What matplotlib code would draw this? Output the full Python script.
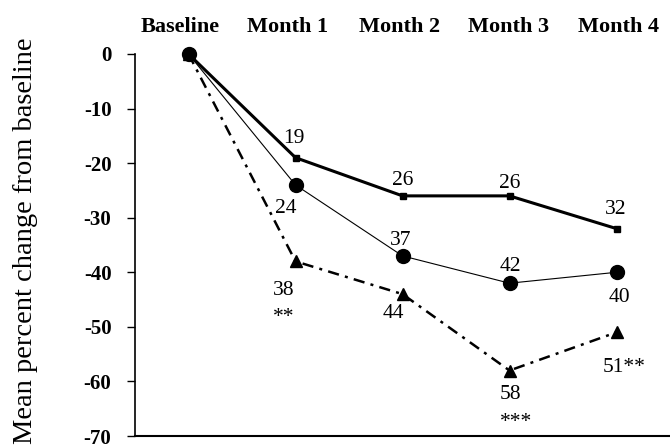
import matplotlib
matplotlib.use('Agg')
import matplotlib.pyplot as plt

plt.rcParams['font.family'] = ['Liberation Serif', 'DejaVu Serif']

timepoints = ['Baseline', 'Month 1', 'Month 2', 'Month 3', 'Month 4']
square_vals = [0, -19, -26, -26, -32]
circle_vals = [0, -24, -37, -42, -40]
triangle_vals = [0, -38, -44, -58, -51]

square_labels = [None, '19', '26', '26', '32']
circle_labels = [None, '24', '37', '42', '40']
triangle_labels = [None, '38', '44', '58', '51**']
triangle_stars = [None, '**', None, '***', None]

# label offsets in pixels (dx, dy)
square_offs = [None, (-2, 19.5), (0, 15.5), (0, 12.5), (-0.5, 19.5)]
circle_offs = [None, (-10, -23.5), (-2, 15.5), (1, 16.5), (3, -25.5)]
triangle_offs = [None, (-12, -29.5), (-9.5, -19.5), (1, -23.5), (8, -35)]
star_offs = [None, (-12, -56), None, (7, -52), None]
header_pos = [-0.08, 0.93, 1.97, 2.99, 4.02]

x = list(range(len(timepoints)))

fig = plt.figure(figsize=(6.7, 4.45), dpi=100)
ax = fig.add_axes([0.2015, 0.0202, 0.7985, 0.8585])

ax.plot(x, triangle_vals, color='k', lw=1.8, dashes=(4.5, 2.5, 1.2, 2.5),
        marker='^', markersize=8, zorder=3)
ax.plot(x, circle_vals, color='k', lw=0.8, marker='o', markersize=10, zorder=4)
ax.plot(x, square_vals, color='k', lw=2.2, marker='s', markersize=5, zorder=5)

for vals, labs, offs in [(square_vals, square_labels, square_offs),
                         (circle_vals, circle_labels, circle_offs),
                         (triangle_vals, triangle_labels, triangle_offs),
                         (triangle_vals, triangle_stars, star_offs)]:
    for xi, v, lab, off in zip(x, vals, labs, offs):
        if lab is None:
            continue
        ax.annotate(lab, (xi, v), xytext=off, textcoords='offset pixels',
                    ha='center', va='center', fontsize=15.5)

ax.set_xlim(-0.5, 4.5)
ax.set_ylim(-70, 0)
ax.set_yticks(range(-70, 1, 10))
ax.set_yticklabels([str(v) for v in range(-70, 1, 10)], fontweight='bold', fontsize=15)
ax.tick_params(axis='y', length=6, width=1, pad=11)

ax.xaxis.tick_top()
ax.set_xticks(header_pos)
ax.set_xticklabels(timepoints, fontweight='bold', fontsize=16)
ax.tick_params(axis='x', length=0, pad=12.5)

ax.spines['top'].set_visible(False)
ax.spines['right'].set_visible(False)
ax.spines['left'].set_linewidth(1.2)
ax.spines['bottom'].set_linewidth(1.5)
for m in ax.lines:
    m.set_clip_on(False)

ax.set_ylabel('Mean percent change from baseline', fontsize=20.5)
ax.yaxis.set_label_coords(-0.181, 0.51)

fig.savefig('out.png', dpi=100)
